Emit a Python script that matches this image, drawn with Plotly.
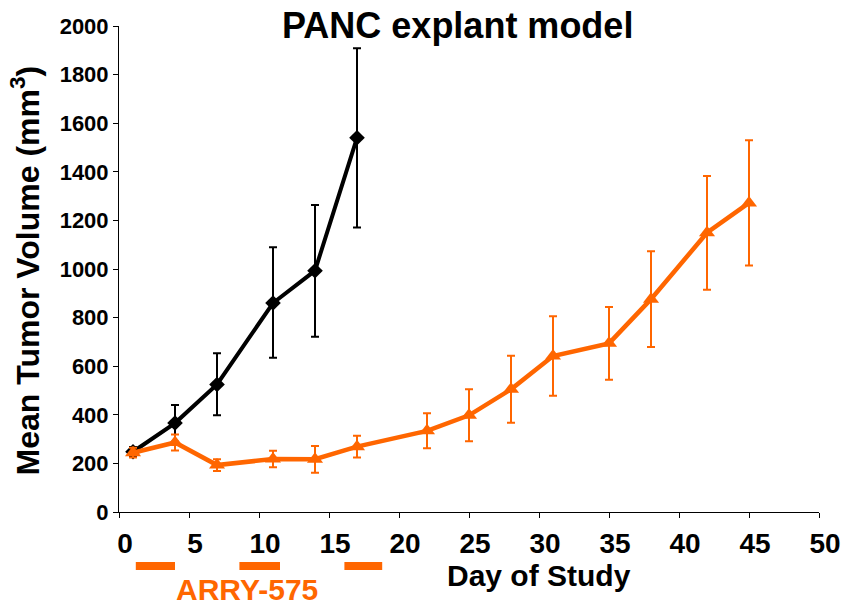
import plotly.graph_objects as go

# ---- data ----
ctrl_days = [1, 4, 7, 11, 14, 17]
ctrl_mean = [248, 366, 525, 860, 993, 1540]
ctrl_err_up = [20, 74, 128, 229, 270, 368]
ctrl_err_dn = [20, 77, 127, 225, 272, 369]

trt_days = [1, 4, 7, 11, 14, 17, 22, 25, 28, 31, 35, 38, 42, 45]
trt_mean = [244, 286, 193, 218, 217, 269, 334, 398, 505, 642, 694, 876, 1149, 1272]
trt_err = [20, 33, 24, 34, 55, 45, 72, 107, 138, 164, 150, 197, 234, 258]

dose_periods = [(1.2, 4.0), (8.6, 11.5), (16.1, 18.8)]

x_ticks = [0, 5, 10, 15, 20, 25, 30, 35, 40, 45, 50]
y_ticks = [0, 200, 400, 600, 800, 1000, 1200, 1400, 1600, 1800, 2000]

ORANGE = "#FF6600"
FONT = "Liberation Sans, Arial, sans-serif"

fig = go.Figure()

fig.add_trace(go.Scatter(
    x=ctrl_days, y=ctrl_mean, mode="lines+markers",
    line=dict(color="black", width=4),
    marker=dict(symbol="diamond", size=12, color="black"),
    error_y=dict(type="data", array=ctrl_err_up, arrayminus=ctrl_err_dn,
                 color="black", thickness=2, width=4),
    cliponaxis=False, showlegend=False,
))

fig.add_trace(go.Scatter(
    x=trt_days, y=trt_mean, mode="lines+markers",
    line=dict(color=ORANGE, width=4.5),
    marker=dict(symbol="triangle-up", size=14, color=ORANGE),
    error_y=dict(type="data", array=trt_err, color=ORANGE, thickness=2, width=4),
    cliponaxis=False, showlegend=False,
))

H = 486.0
shapes = []
for a, b in dose_periods:
    shapes.append(dict(type="rect", xref="x", yref="paper", x0=a, x1=b,
                       y0=-(562 - 512) / H, y1=-(570 - 512) / H,
                       fillcolor=ORANGE, line=dict(width=0)))

annotations = [
    dict(text="<b>PANC explant model</b>", xref="paper", yref="paper",
         x=(459 - 119) / 703, y=(512 - 25) / H, xanchor="center", yanchor="middle",
         showarrow=False, font=dict(family=FONT, size=36, color="black")),
    dict(text="<b>Mean Tumor Volume (mm<sup>3</sup>)</b>", xref="paper", yref="paper",
         x=(25 - 119) / 703, y=(512 - 270) / H, xanchor="center", yanchor="middle",
         textangle=-90, showarrow=False,
         font=dict(family=FONT, size=32, color="black")),
    dict(text="<b>Day of Study</b>", xref="paper", yref="paper",
         x=(541 - 119) / 703, y=-(575 - 512) / H, xanchor="center", yanchor="middle",
         showarrow=False, font=dict(family=FONT, size=30, color="black")),
    dict(text="<b>ARRY-575</b>", xref="paper", yref="paper",
         x=(248 - 119) / 703, y=-(589 - 512) / H, xanchor="center", yanchor="middle",
         showarrow=False, font=dict(family=FONT, size=30, color=ORANGE)),
]

fig.update_layout(
    width=853, height=606,
    margin=dict(l=119, r=31, t=26, b=94, pad=0),
    paper_bgcolor="white", plot_bgcolor="white",
    font=dict(family=FONT, color="black"),
    shapes=shapes, annotations=annotations,
    xaxis=dict(range=[0, 50], tickvals=x_ticks, ticktext=[f"<b>{v}</b>" for v in x_ticks],
               showgrid=False, zeroline=False, showline=True, linecolor="black",
               linewidth=1, ticks="outside", ticklen=5, tickcolor="black",
               tickfont=dict(family=FONT, size=28, color="black"),
               ticklabelshift=6, ticklabelstandoff=1),
    yaxis=dict(range=[0, 2000], tickvals=y_ticks, ticktext=[f"<b>{v}</b>" for v in y_ticks],
               showgrid=False, zeroline=False, showline=True, linecolor="black",
               linewidth=1, ticks="outside", ticklen=5, tickcolor="black",
               tickfont=dict(family=FONT, size=22, color="black")),
)

fig.write_html("out.html")
